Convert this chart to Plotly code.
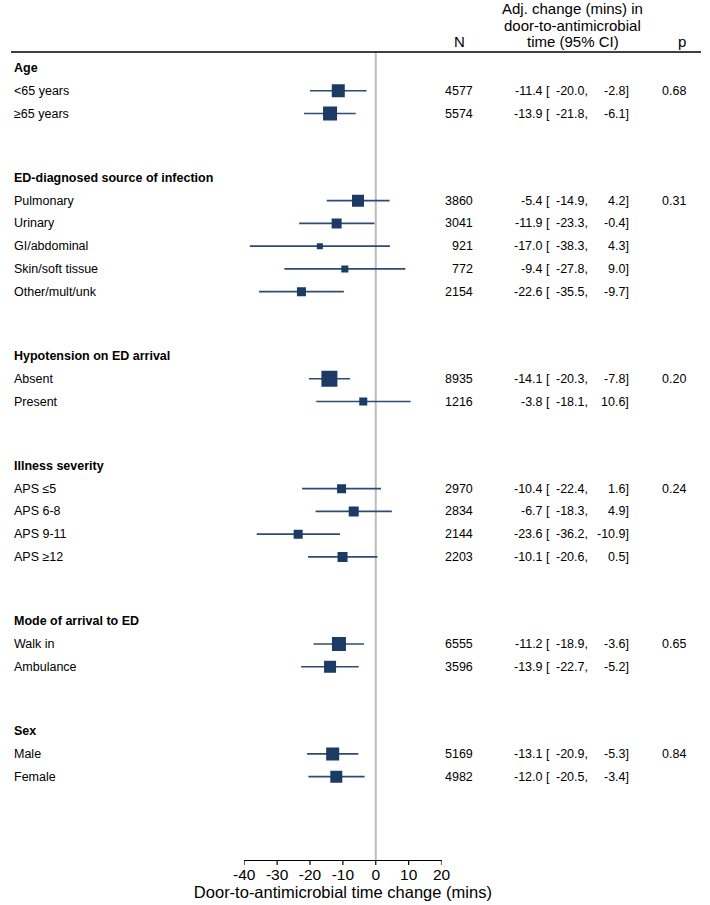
import plotly.graph_objects as go

# ---------------- data ----------------
groups = ["Age", "ED-diagnosed source of infection", "Hypotension on ED arrival",
          "Illness severity", "Mode of arrival to ED", "Sex"]
subgroups = [
    ["<65 years", "≥65 years"],
    ["Pulmonary", "Urinary", "GI/abdominal", "Skin/soft tissue", "Other/mult/unk"],
    ["Absent", "Present"],
    ["APS ≤5", "APS 6-8", "APS 9-11", "APS ≥12"],
    ["Walk in", "Ambulance"],
    ["Male", "Female"],
]
n_obs = [4577, 5574, 3860, 3041, 921, 772, 2154, 8935, 1216,
         2970, 2834, 2144, 2203, 6555, 3596, 5169, 4982]
est = [-11.4, -13.9, -5.4, -11.9, -17.0, -9.4, -22.6, -14.1, -3.8,
       -10.4, -6.7, -23.6, -10.1, -11.2, -13.9, -13.1, -12.0]
ci_lo = [-20.0, -21.8, -14.9, -23.3, -38.3, -27.8, -35.5, -20.3, -18.1,
         -22.4, -18.3, -36.2, -20.6, -18.9, -22.7, -20.9, -20.5]
ci_hi = [-2.8, -6.1, 4.2, -0.4, 4.3, 9.0, -9.7, -7.8, 10.6,
         1.6, 4.9, -10.9, 0.5, -3.6, -5.2, -5.3, -3.4]
p_vals = ["0.68", "0.31", "0.20", "0.24", "0.65", "0.84"]
x_ticks = [-40, -30, -20, -10, 0, 10, 20]
x_ticklabels = ["-40", "-30", "-20", "-10", "0", "10", "20"]
x_title = "Door-to-antimicrobial time change (mins)"
col_headers = ["N", ["Adj. change (mins) in", "door-to-antimicrobial", "time (95% CI)"], "p"]

# ---------------- style ----------------
marker_px = [13, 14, 12, 10, 6, 7, 9, 16, 8, 9, 10, 9, 10, 14, 12, 13, 12]
FONT = "Liberation Sans, Arial, Helvetica, sans-serif"
W, H = 710, 905
MARK = "#1b3a64"
LINE = "#2d4b73"
GAP = 1.83          # extra blank space between groups (in row units)
ROW_PX = 22.75
TOP_PX, BOT_PX, FIRST_PX = 52, 860, 68

# row positions (row units, 0 = first group header)
header_pos, item_pos = [], []
pos = 0.0
for g, subs in zip(groups, subgroups):
    header_pos.append(pos)
    for k in range(len(subs)):
        item_pos.append(pos + 1 + k)
    pos += len(subs) + 1 + GAP

y_top = (TOP_PX - FIRST_PX) / ROW_PX
y_bot = (BOT_PX - FIRST_PX) / ROW_PX

fig = go.Figure()
fig.add_trace(go.Scatter(
    x=est, y=item_pos, mode="markers",
    marker=dict(symbol="square", size=marker_px, color=MARK, opacity=1,
                line=dict(width=0)),
    error_x=dict(type="data", symmetric=False,
                 array=[h - e for h, e in zip(ci_hi, est)],
                 arrayminus=[e - l for e, l in zip(est, ci_lo)],
                 width=0, thickness=1.6, color=LINE),
    hoverinfo="skip", showlegend=False,
))

shapes = [
    dict(type="line", xref="x", yref="y", x0=0, x1=0, y0=y_top, y1=y_bot,
         line=dict(color="#bcbcbc", width=2), layer="below"),
    dict(type="line", xref="paper", yref="paper", x0=0, x1=1,
         y0=1 - TOP_PX / H, y1=1 - TOP_PX / H, line=dict(color="black", width=1.5)),
]
# tick marks below the axis line
for tv in x_ticks:
    shapes.append(dict(type="line", xref="x", yref="paper", x0=tv, x1=tv,
                       y0=1 - BOT_PX / H, y1=1 - (BOT_PX + 5) / H,
                       line=dict(color="black", width=1.2)))

ann = []
def txt(x_px, y, text, anchor="left", size=12.5, yref="y"):
    ann.append(dict(x=x_px / W, xref="paper", y=y, yref=yref, text=text,
                    showarrow=False, xanchor=anchor, yanchor="middle",
                    font=dict(family=FONT, size=size, color="black")))

for g, yp in zip(groups, header_pos):
    txt(1, yp, "<b>" + g + "</b>")

idx = 0
for g, subs, pv in zip(groups, subgroups, p_vals):
    for k, s in enumerate(subs):
        yp = item_pos[idx]
        txt(1, yp, s)
        txt(477, yp, str(n_obs[idx]), "right")
        txt(557, yp, f"{est[idx]:.1f} [", "right")
        txt(596, yp, f"{ci_lo[idx]:.1f},", "right")
        txt(638, yp, f"{ci_hi[idx]:.1f}]", "right")
        if k == 0:
            txt(697, yp, pv, "right")
        idx += 1

# column headers (pixel rows converted to paper)
HDR = 15
txt(462, 1 - 41 / H, col_headers[0], "center", HDR, "paper")
for line_txt, ypx in zip(col_headers[1], [9, 25, 41]):
    txt(578, 1 - ypx / H, line_txt, "center", HDR, "paper")
txt(690, 1 - 41 / H, col_headers[2], "center", HDR, "paper")

fig.update_layout(
    width=W, height=H, margin=dict(l=0, r=0, t=0, b=0),
    paper_bgcolor="white", plot_bgcolor="white",
    font=dict(family=FONT, color="black"),
    shapes=shapes, annotations=ann,
    xaxis=dict(domain=[240 / W, 443 / W], range=[-40, 20], tickvals=x_ticks,
               ticktext=x_ticklabels,
               showgrid=False, zeroline=False, showline=True, linecolor="black",
               linewidth=1.2, ticks="", tickfont=dict(size=15.5, family=FONT),
               title=dict(text=x_title, font=dict(size=16.5, family=FONT), standoff=0)),
    yaxis=dict(domain=[1 - BOT_PX / H, 1 - TOP_PX / H], range=[y_bot, y_top],
               showgrid=False, zeroline=False, showline=False, showticklabels=False,
               ticks=""),
)

fig.write_html("out.html", config={"displayModeBar": False},
               post_script="document.body.style.margin='0';")
